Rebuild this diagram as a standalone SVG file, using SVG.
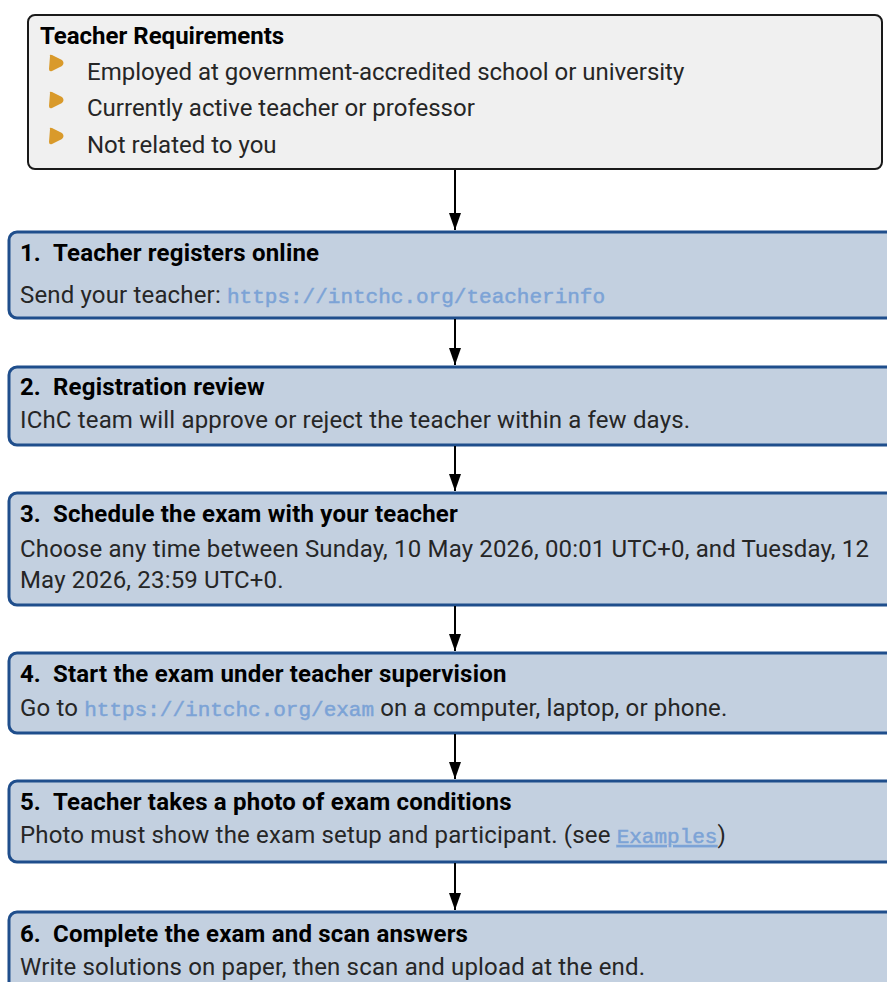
<svg xmlns="http://www.w3.org/2000/svg" width="887" height="982" viewBox="0 0 887 982">
<defs>
<style>
.req{fill:#f0f0f0;stroke:#1a1a1a;stroke-width:2}
.step{fill:#c3d0e0;stroke:#1f4e8c;stroke-width:3}
.t{font-family:Roboto,"Liberation Sans",sans-serif;font-weight:bold;font-size:24px;fill:#000}
.st{letter-spacing:0.2px}
.b{font-family:Roboto,"Liberation Sans",sans-serif;font-weight:400;font-size:24px;fill:#262626}
.sb{letter-spacing:0.16px}
.m{font-family:"Liberation Mono","Courier New",monospace;font-weight:400;font-size:21px;letter-spacing:0;fill:#7ca3d6;stroke:#7ca3d6;stroke-width:0.5}
.bul{fill:#d99a2b}
.c line{stroke:#000;stroke-width:2}
</style>
<marker id="ah" markerWidth="17" markerHeight="12" refX="17" refY="6" orient="auto" markerUnits="userSpaceOnUse" viewBox="0 0 17 12">
<path d="M0,0 L17,6 L0,12 Z" fill="#000"/>
</marker>
<path id="tri" d="M-6,-7 Q-7,-9 -4,-8 L6,-3 Q9,0 6,3 L-4,8 Q-7,9 -7,6 Z"/>
</defs>

<g id="requirements">
<rect class="req" x="28" y="15" width="854" height="154" rx="7"/>
<text class="t" x="40" y="44">Teacher Requirements</text>
<use href="#tri" class="bul" x="56" y="63"/>
<use href="#tri" class="bul" x="56" y="100"/>
<use href="#tri" class="bul" x="56" y="136"/>
<text class="b" x="87" y="80">Employed at government-accredited school or university</text>
<text class="b" x="87" y="116">Currently active teacher or professor</text>
<text class="b" x="87" y="153">Not related to you</text>
</g>

<g id="step1">
<rect class="step" x="9" y="232" width="890" height="86" rx="8"/>
<text class="t" x="20" y="261">1.</text>
<text class="t st" x="53" y="261">Teacher registers online</text>
<text class="b sb" x="20" y="303">Send your teacher: <tspan class="m">https://intchc.org/teacherinfo</tspan></text>
</g>

<g id="step2">
<rect class="step" x="9" y="367" width="890" height="78" rx="8"/>
<text class="t" x="20" y="395">2.</text>
<text class="t st" x="53" y="395">Registration review</text>
<text class="b sb" x="20" y="428">IChC team will approve or reject the teacher within a few days.</text>
</g>

<g id="step3">
<rect class="step" x="9" y="493" width="890" height="112" rx="8"/>
<text class="t" x="20" y="522">3.</text>
<text class="t st" x="53" y="522">Schedule the exam with your teacher</text>
<text class="b sb" x="20" y="557">Choose any time between Sunday, 10 May 2026, 00:01 UTC+0, and Tuesday, 12</text>
<text class="b sb" x="20" y="588">May 2026, 23:59 UTC+0.</text>
</g>

<g id="step4">
<rect class="step" x="9" y="653" width="890" height="80" rx="8"/>
<text class="t" x="20" y="682">4.</text>
<text class="t st" x="53" y="682">Start the exam under teacher supervision</text>
<text class="b sb" x="20" y="716">Go to <tspan class="m">https://intchc.org/exam</tspan> on a computer, laptop, or phone.</text>
</g>

<g id="step5">
<rect class="step" x="9" y="781" width="890" height="81" rx="8"/>
<text class="t" x="20" y="810">5.</text>
<text class="t st" x="53" y="810">Teacher takes a photo of exam conditions</text>
<text class="b sb" x="20" y="843">Photo must show the exam setup and participant. (see <tspan class="m" text-decoration="underline">Examples</tspan>)</text>
</g>

<g id="step6">
<rect class="step" x="9" y="912" width="890" height="90" rx="8"/>
<text class="t" x="20" y="942">6.</text>
<text class="t st" x="53" y="942">Complete the exam and scan answers</text>
<text class="b sb" x="20" y="975">Write solutions on paper, then scan and upload at the end.</text>
</g>

<g id="connectors" class="c">
<line x1="455" y1="170" x2="455" y2="230" marker-end="url(#ah)"/>
<line x1="455" y1="319" x2="455" y2="365" marker-end="url(#ah)"/>
<line x1="455" y1="446" x2="455" y2="491" marker-end="url(#ah)"/>
<line x1="455" y1="606" x2="455" y2="651" marker-end="url(#ah)"/>
<line x1="455" y1="734" x2="455" y2="779" marker-end="url(#ah)"/>
<line x1="455" y1="863" x2="455" y2="910" marker-end="url(#ah)"/>
</g>
</svg>
